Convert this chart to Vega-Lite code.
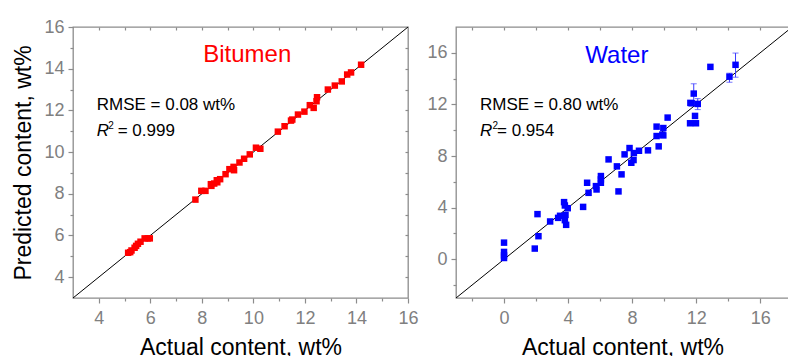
{
  "$schema": "https://vega.github.io/schema/vega-lite/v6.json",
  "background": "white",
  "padding": {"left": 12, "top": 17, "right": 0, "bottom": 0},
  "spacing": 48,
  "bounds": "flush",
  "datasets": {
    "one": [{}],
    "bitumen": [
      {"actual": 5.14, "predicted": 5.17}, {"actual": 5.22, "predicted": 5.2}, {"actual": 5.27, "predicted": 5.28},
      {"actual": 5.39, "predicted": 5.41}, {"actual": 5.45, "predicted": 5.5}, {"actual": 5.52, "predicted": 5.6},
      {"actual": 5.62, "predicted": 5.7}, {"actual": 5.78, "predicted": 5.86}, {"actual": 5.9, "predicted": 5.86},
      {"actual": 5.98, "predicted": 5.86}, {"actual": 7.75, "predicted": 7.72}, {"actual": 7.98, "predicted": 8.14},
      {"actual": 8.14, "predicted": 8.14}, {"actual": 8.35, "predicted": 8.46}, {"actual": 8.37, "predicted": 8.38},
      {"actual": 8.48, "predicted": 8.49}, {"actual": 8.58, "predicted": 8.65}, {"actual": 8.6, "predicted": 8.55},
      {"actual": 8.71, "predicted": 8.7}, {"actual": 8.92, "predicted": 8.94}, {"actual": 9.07, "predicted": 9.18},
      {"actual": 9.23, "predicted": 9.29}, {"actual": 9.25, "predicted": 9.13}, {"actual": 9.46, "predicted": 9.5},
      {"actual": 9.64, "predicted": 9.68}, {"actual": 9.86, "predicted": 9.89}, {"actual": 10.1, "predicted": 10.21},
      {"actual": 10.27, "predicted": 10.16}, {"actual": 10.95, "predicted": 10.98}, {"actual": 11.21, "predicted": 11.24},
      {"actual": 11.46, "predicted": 11.51}, {"actual": 11.51, "predicted": 11.56}, {"actual": 11.73, "predicted": 11.8},
      {"actual": 11.98, "predicted": 11.94}, {"actual": 12.19, "predicted": 12.25}, {"actual": 12.34, "predicted": 12.12},
      {"actual": 12.45, "predicted": 12.44}, {"actual": 12.47, "predicted": 12.63}, {"actual": 12.89, "predicted": 13.0},
      {"actual": 13.16, "predicted": 13.19}, {"actual": 13.43, "predicted": 13.39}, {"actual": 13.64, "predicted": 13.72},
      {"actual": 13.79, "predicted": 13.82}, {"actual": 14.18, "predicted": 14.19}
    ],
    "water": [
      {"actual": 0, "predicted": 1.29}, {"actual": 0, "predicted": 0.57}, {"actual": 0, "predicted": 0.3},
      {"actual": 0, "predicted": 0.1}, {"actual": 1.92, "predicted": 0.83}, {"actual": 2.09, "predicted": 3.5},
      {"actual": 2.15, "predicted": 1.79}, {"actual": 2.88, "predicted": 2.93}, {"actual": 3.38, "predicted": 3.21},
      {"actual": 3.5, "predicted": 3.37}, {"actual": 3.75, "predicted": 4.43}, {"actual": 3.8, "predicted": 4.17},
      {"actual": 3.8, "predicted": 3.03}, {"actual": 3.84, "predicted": 3.44}, {"actual": 3.88, "predicted": 2.67},
      {"actual": 3.98, "predicted": 3.96}, {"actual": 4.94, "predicted": 4.06}, {"actual": 5.19, "predicted": 5.93},
      {"actual": 5.28, "predicted": 5.15}, {"actual": 5.74, "predicted": 5.67}, {"actual": 5.78, "predicted": 5.41},
      {"actual": 6.05, "predicted": 6.45}, {"actual": 6.05, "predicted": 6.19}, {"actual": 6.05, "predicted": 5.93},
      {"actual": 6.53, "predicted": 7.74}, {"actual": 7.05, "predicted": 7.2}, {"actual": 7.15, "predicted": 5.26},
      {"actual": 7.34, "predicted": 6.58}, {"actual": 7.53, "predicted": 8.13}, {"actual": 7.84, "predicted": 8.62},
      {"actual": 7.95, "predicted": 7.48}, {"actual": 8.09, "predicted": 7.69}, {"actual": 8.11, "predicted": 8.23},
      {"actual": 8.43, "predicted": 8.41}, {"actual": 8.99, "predicted": 8.44}, {"actual": 9.53, "predicted": 10.28},
      {"actual": 9.53, "predicted": 9.55}, {"actual": 9.66, "predicted": 8.75}, {"actual": 9.89, "predicted": 9.66},
      {"actual": 9.95, "predicted": 10.17}, {"actual": 9.95, "predicted": 9.6}, {"actual": 10.22, "predicted": 10.98},
      {"actual": 11.62, "predicted": 10.54}, {"actual": 11.64, "predicted": 12.12}, {"actual": 11.72, "predicted": 12.09},
      {"actual": 11.85, "predicted": 12.84, "lo": 12.1, "hi": 13.6}, {"actual": 11.93, "predicted": 11.11},
      {"actual": 11.99, "predicted": 10.54}, {"actual": 12.1, "predicted": 12.04, "lo": 11.6, "hi": 12.45},
      {"actual": 12.89, "predicted": 14.91}, {"actual": 14.08, "predicted": 14.15, "lo": 13.72, "hi": 14.42},
      {"actual": 14.46, "predicted": 15.07, "lo": 14.11, "hi": 15.98}
    ]
  },
  "hconcat": [
    {
      "width": 335,
      "height": 271,
      "layer": [
        {
          "data": {"name": "one"},
          "mark": {"type": "rule", "color": "black", "strokeWidth": 1},
          "encoding": {
            "x": {"datum": 3, "type": "quantitative", "scale": {"domain": [3, 16], "nice": false, "zero": false},
              "axis": {"orient": "bottom", "title": "Actual content, wt%", "values": [4,5,6,7,8,9,10,11,12,13,14,15,16],
                "labelExpr": "datum.value % 2 == 0 ? datum.label : ''", "labelOverlap": false,
                "tickSize": {"condition": {"test": "datum.value % 2 != 0", "value": 3}, "value": 5},
                "labelPadding": 6, "titlePadding": 9}},
            "y": {"datum": 3, "type": "quantitative", "scale": {"domain": [3, 16], "nice": false, "zero": false},
              "axis": {"orient": "left", "title": "Predicted content, wt%", "values": [4,5,6,7,8,9,10,11,12,13,14,15,16],
                "labelExpr": "datum.value % 2 == 0 ? datum.label : ''", "labelOverlap": false,
                "tickSize": {"condition": {"test": "datum.value % 2 != 0", "value": 3}, "value": 5},
                "labelPadding": 4, "titlePadding": 8}},
            "x2": {"datum": 16},
            "y2": {"datum": 16}
          }
        },
        {
          "data": {"name": "one"},
          "mark": {"type": "rule", "opacity": 0},
          "encoding": {
            "x": {"datum": 3, "type": "quantitative", "axis": {"orient": "top", "title": null, "labels": false, "values": [4,5,6,7,8,9,10,11,12,13,14,15], "tickSize": -3}},
            "y": {"datum": 3, "type": "quantitative", "axis": {"orient": "right", "title": null, "labels": false, "values": [4,5,6,7,8,9,10,11,12,13,14,15], "tickSize": -3}},
            "x2": {"datum": 16},
            "y2": {"datum": 16}
          }
        },
        {
          "data": {"name": "bitumen"},
          "mark": {"type": "square", "color": "#ff0000", "size": 42, "opacity": 1},
          "encoding": {
            "x": {"field": "actual", "type": "quantitative", "axis": null},
            "y": {"field": "predicted", "type": "quantitative", "axis": null}
          }
        },
        {
          "data": {"name": "one"},
          "mark": {"type": "text", "text": "Bitumen", "color": "#ff0000", "fontSize": 24, "font": "Liberation Sans", "align": "center", "baseline": "alphabetic"},
          "encoding": {"x": {"datum": 9.76, "type": "quantitative", "axis": null}, "y": {"datum": 14.32, "type": "quantitative", "axis": null}}
        },
        {
          "data": {"name": "one"},
          "mark": {"type": "text", "text": "RMSE = 0.08 wt%", "color": "black", "fontSize": 17, "font": "Liberation Sans", "align": "left", "baseline": "alphabetic"},
          "encoding": {"x": {"datum": 3.92, "type": "quantitative", "axis": null}, "y": {"datum": 12.03, "type": "quantitative", "axis": null}}
        },
        {
          "data": {"name": "one"},
          "mark": {"type": "text", "text": "R", "color": "black", "fontSize": 17, "fontStyle": "italic", "font": "Liberation Sans", "align": "left", "baseline": "alphabetic"},
          "encoding": {"x": {"datum": 3.92, "type": "quantitative", "axis": null}, "y": {"datum": 10.79, "type": "quantitative", "axis": null}}
        },
        {
          "data": {"name": "one"},
          "mark": {"type": "text", "text": "2", "color": "black", "fontSize": 10, "font": "Liberation Sans", "align": "left", "baseline": "alphabetic", "dx": 11.5, "dy": -7},
          "encoding": {"x": {"datum": 3.92, "type": "quantitative", "axis": null}, "y": {"datum": 10.79, "type": "quantitative", "axis": null}}
        },
        {
          "data": {"name": "one"},
          "mark": {"type": "text", "text": "= 0.999", "color": "black", "fontSize": 17, "font": "Liberation Sans", "align": "left", "baseline": "alphabetic", "dx": 21},
          "encoding": {"x": {"datum": 3.92, "type": "quantitative", "axis": null}, "y": {"datum": 10.79, "type": "quantitative", "axis": null}}
        }
      ],
      "resolve": {"axis": {"x": "independent", "y": "independent"}}
    },
    {
      "width": 333,
      "height": 271,
      "layer": [
        {
          "data": {"name": "one"},
          "mark": {"type": "rule", "color": "black", "strokeWidth": 1, "clip": true},
          "encoding": {
            "x": {"datum": -3, "type": "quantitative", "scale": {"domain": [-3, 17.8], "nice": false, "zero": false},
              "axis": {"orient": "bottom", "title": "Actual content, wt%", "values": [-2,0,2,4,6,8,10,12,14,16],
                "labelExpr": "datum.value % 4 == 0 ? datum.label : ''", "labelOverlap": false,
                "tickSize": {"condition": {"test": "datum.value % 4 != 0", "value": 3}, "value": 5},
                "labelPadding": 6, "titlePadding": 9}},
            "y": {"datum": -3, "type": "quantitative", "scale": {"domain": [-3, 18], "nice": false, "zero": false},
              "axis": {"orient": "left", "title": null, "values": [-2,0,2,4,6,8,10,12,14,16],
                "labelExpr": "datum.value % 4 == 0 ? datum.label : ''", "labelOverlap": false,
                "tickSize": {"condition": {"test": "datum.value % 4 != 0", "value": 3}, "value": 5},
                "labelPadding": 4}},
            "x2": {"datum": 18},
            "y2": {"datum": 18}
          }
        },
        {
          "data": {"name": "one"},
          "mark": {"type": "rule", "opacity": 0},
          "encoding": {
            "x": {"datum": -3, "type": "quantitative", "axis": {"orient": "top", "title": null, "labels": false, "values": [-2,0,2,4,6,8,10,12,14,16], "tickSize": -3}},
            "y": {"datum": -3, "type": "quantitative", "axis": null},
            "x2": {"datum": 17.8},
            "y2": {"datum": 17.8}
          }
        },
        {
          "data": {"name": "water"},
          "transform": [{"filter": "isValid(datum.lo)"}],
          "mark": {"type": "rule", "color": "#3a3aff", "strokeWidth": 1},
          "encoding": {
            "x": {"field": "actual", "type": "quantitative", "axis": null},
            "y": {"field": "lo", "type": "quantitative", "axis": null},
            "y2": {"field": "hi"}
          }
        },
        {
          "data": {"name": "water"},
          "transform": [{"filter": "isValid(datum.lo)"}, {"fold": ["lo", "hi"], "as": ["end", "val"]}],
          "mark": {"type": "tick", "color": "#3a3aff", "orient": "horizontal", "size": 6, "thickness": 1},
          "encoding": {
            "x": {"field": "actual", "type": "quantitative", "axis": null},
            "y": {"field": "val", "type": "quantitative", "axis": null}
          }
        },
        {
          "data": {"name": "water"},
          "mark": {"type": "square", "color": "#0000ff", "size": 42, "opacity": 1},
          "encoding": {
            "x": {"field": "actual", "type": "quantitative", "axis": null},
            "y": {"field": "predicted", "type": "quantitative", "axis": null}
          }
        },
        {
          "data": {"name": "one"},
          "mark": {"type": "text", "text": "Water", "color": "#0000ff", "fontSize": 24, "font": "Liberation Sans", "align": "center", "baseline": "alphabetic"},
          "encoding": {"x": {"datum": 7.05, "type": "quantitative", "axis": null}, "y": {"datum": 15.22, "type": "quantitative", "axis": null}}
        },
        {
          "data": {"name": "one"},
          "mark": {"type": "text", "text": "RMSE = 0.80 wt%", "color": "black", "fontSize": 17, "font": "Liberation Sans", "align": "left", "baseline": "alphabetic"},
          "encoding": {"x": {"datum": -1.5, "type": "quantitative", "axis": null}, "y": {"datum": 11.53, "type": "quantitative", "axis": null}}
        },
        {
          "data": {"name": "one"},
          "mark": {"type": "text", "text": "R", "color": "black", "fontSize": 17, "fontStyle": "italic", "font": "Liberation Sans", "align": "left", "baseline": "alphabetic"},
          "encoding": {"x": {"datum": -1.5, "type": "quantitative", "axis": null}, "y": {"datum": 9.58, "type": "quantitative", "axis": null}}
        },
        {
          "data": {"name": "one"},
          "mark": {"type": "text", "text": "2", "color": "black", "fontSize": 10, "font": "Liberation Sans", "align": "left", "baseline": "alphabetic", "dx": 12.5, "dy": -7},
          "encoding": {"x": {"datum": -1.5, "type": "quantitative", "axis": null}, "y": {"datum": 9.58, "type": "quantitative", "axis": null}}
        },
        {
          "data": {"name": "one"},
          "mark": {"type": "text", "text": "= 0.954", "color": "black", "fontSize": 17, "font": "Liberation Sans", "align": "left", "baseline": "alphabetic", "dx": 17},
          "encoding": {"x": {"datum": -1.5, "type": "quantitative", "axis": null}, "y": {"datum": 9.58, "type": "quantitative", "axis": null}}
        }
      ],
      "resolve": {"axis": {"x": "independent", "y": "independent"}}
    }
  ],
  "config": {
    "view": {"stroke": "#8c8c8c", "strokeWidth": 1.3},
    "axis": {
      "domain": false,
      "grid": false,
      "labelFlush": false,
      "tickColor": "#8c8c8c",
      "tickWidth": 1.2,
      "labelFont": "Liberation Sans",
      "labelFontSize": 18,
      "labelColor": "#808080",
      "titleFont": "Liberation Sans",
      "titleFontSize": 23,
      "titleFontWeight": "normal",
      "titleColor": "black"
    }
  }
}
